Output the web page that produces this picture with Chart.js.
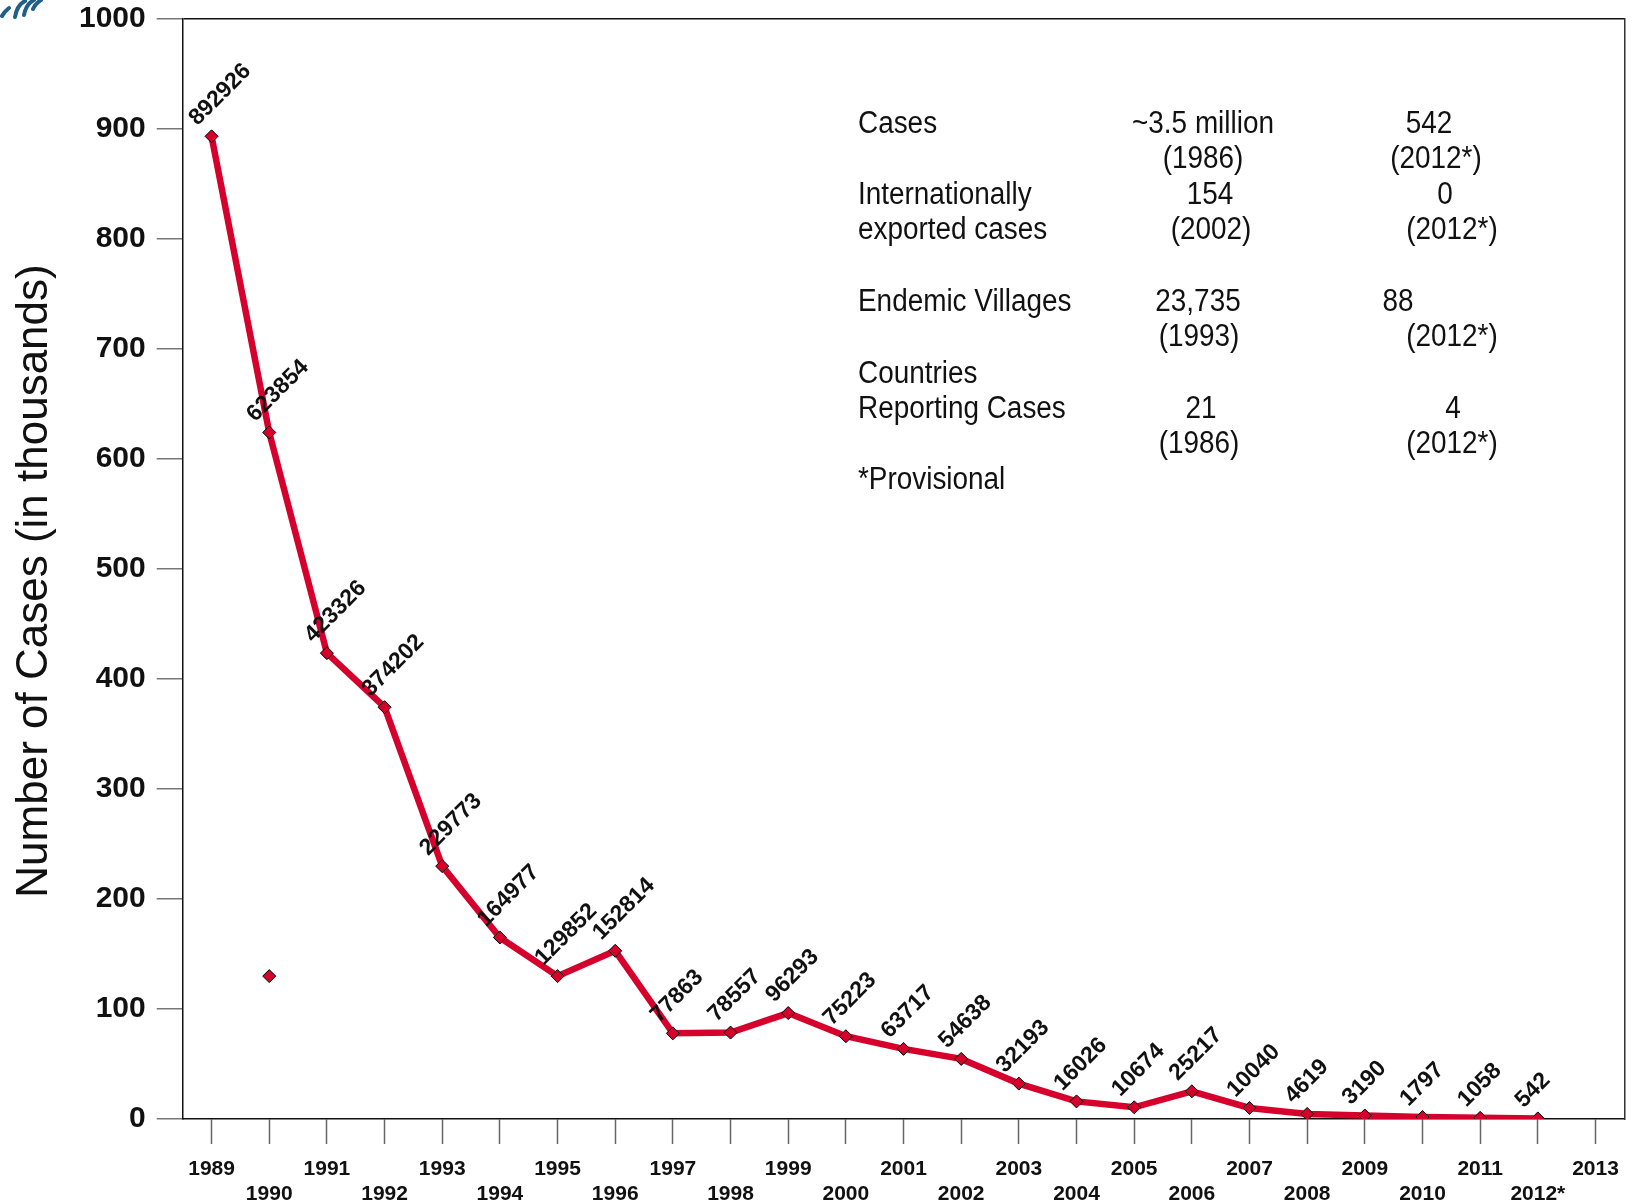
<!DOCTYPE html>
<html>
<head>
<meta charset="utf-8">
<script src="https://cdn.jsdelivr.net/npm/chart.js@4.4.1/dist/chart.umd.min.js"></script>
<style>
  html, body { margin: 0; padding: 0; background: #fff; }
  #wrap { width: 1632px; height: 1203px; }
</style>
</head>
<body>
<div id="wrap"><canvas id="casesChart"></canvas></div>
<script>
const years = ['1989', '1990', '1991', '1992', '1993', '1994', '1995', '1996', '1997', '1998', '1999', '2000',
    '2001', '2002', '2003', '2004', '2005', '2006', '2007', '2008', '2009', '2010', '2011', '2012*', '2013'];

// reported cases per year (2013 has no value yet)
const cases = [892926, 623854, 423326, 374202, 229773, 164977, 129852, 152814, 77863, 78557, 96293, 75223,
    63717, 54638, 32193, 16026, 10674, 25217, 10040, 4619, 3190, 1797, 1058, 542, null];

// lone marker that sits under the 1990 point in the original
const strayPoint = [null, 129852, null, null, null, null, null, null, null, null, null, null,
    null, null, null, null, null, null, null, null, null, null, null, null, null];

const yTicks = [0, 100, 200, 300, 400, 500, 600, 700, 800, 900, 1000];

const yTitle = 'Number of Cases (in thousands)';

// summary table text, one row per line
const tableRows = [
    ['Cases', '~3.5 million', '542'],
    ['', '(1986)', '(2012*)'],
    ['Internationally', '154', '0'],
    ['exported cases', '(2002)', '(2012*)'],
    ['Endemic Villages', '23,735', '88'],
    ['', '(1993)', '(2012*)'],
    ['Countries', '', ''],
    ['Reporting Cases', '21', '4'],
    ['', '(1986)', '(2012*)'],
    ['*Provisional', '', '']
];

const toThousands = v => (v === null ? null : v / 1000);
const FONT = "'Liberation Sans', Arial, sans-serif";
const RED = '#D6002D';

// table placement (left of column 1, centres of columns 2 and 3)
const tableLayout = {
    left: 858,
    rowY: [124, 159, 195, 230, 302, 337, 374, 409, 444, 480],
    col2: [1203, 1203, 1210, 1211, 1198, 1199, 0, 1201, 1199, 0],
    col3: [1429, 1436, 1445, 1452, 1398, 1452, 0, 1453, 1452, 0]
};

const pointLabels = {
    id: 'pointLabels',
    afterDatasetsDraw(chart) {
        const ctx = chart.ctx;
        const meta = chart.getDatasetMeta(0);
        ctx.save();
        ctx.font = 'bold 23px ' + FONT;
        ctx.fillStyle = '#111';
        ctx.textAlign = 'left';
        ctx.textBaseline = 'alphabetic';
        meta.data.forEach((pt, i) => {
            if (cases[i] === null) return;
            ctx.save();
            ctx.translate(pt.x - 14, pt.y - 10);
            ctx.rotate(-Math.PI / 4);
            ctx.fillText(String(cases[i]), 0, 0);
            ctx.restore();
        });
        ctx.restore();
    }
};

const annotations = {
    id: 'annotations',
    afterDraw(chart) {
        const ctx = chart.ctx;
        const put = (text, x, y, align) => {
            if (!text) return;
            ctx.save();
            ctx.translate(x, y);
            ctx.scale(0.9, 1);
            ctx.textAlign = align;
            ctx.fillText(text, 0, 0);
            ctx.restore();
        };
        ctx.save();
        ctx.font = '31px ' + FONT;
        ctx.fillStyle = '#111';
        ctx.textBaseline = 'middle';
        tableRows.forEach((row, i) => {
            const y = tableLayout.rowY[i];
            put(row[0], tableLayout.left, y, 'left');
            put(row[1], tableLayout.col2[i], y, 'center');
            put(row[2], tableLayout.col3[i], y, 'center');
        });
        ctx.restore();

        // y axis title, sits a little below the middle of the plot
        ctx.save();
        ctx.font = '44px ' + FONT;
        ctx.fillStyle = '#111';
        ctx.textAlign = 'center';
        ctx.textBaseline = 'middle';
        ctx.translate(35, 581);
        ctx.rotate(-Math.PI / 2);
        ctx.fillText(yTitle, 0, 0);
        ctx.restore();

        // bit of the cropped logo in the top-left corner
        ctx.save();
        ctx.strokeStyle = '#1F5F8C';
        ctx.lineWidth = 4;
        ctx.lineCap = 'round';
        [[2, 16, 9, 8], [15, 17, 25, 1], [24, 15, 34, 0], [33, 9, 41, 0]].forEach(s => {
            ctx.beginPath();
            ctx.moveTo(s[0], s[1]);
            ctx.quadraticCurveTo(s[0] + 2, s[3] + 4, s[2], s[3]);
            ctx.stroke();
        });
        ctx.restore();
    }
};

new Chart(document.getElementById('casesChart'), {
    type: 'line',
    data: {
        labels: years,
        datasets: [
            {
                label: 'Cases',
                data: cases.map(toThousands),
                borderColor: RED,
                borderWidth: 6.5,
                tension: 0,
                pointStyle: 'rectRot',
                pointRadius: 6.5,
                pointBackgroundColor: RED,
                pointBorderColor: '#000',
                pointBorderWidth: 1,
                spanGaps: false
            },
            {
                label: 'stray',
                data: strayPoint.map(toThousands),
                showLine: false,
                pointStyle: 'rectRot',
                pointRadius: 6.5,
                pointBackgroundColor: RED,
                pointBorderColor: '#000',
                pointBorderWidth: 1
            }
        ]
    },
    options: {
        responsive: true,
        maintainAspectRatio: false,
        animation: false,
        layout: {
            padding: { top: 1, right: 7, bottom: -17, left: 68 }
        },
        plugins: {
            legend: { display: false },
            tooltip: { enabled: false }
        },
        scales: {
            x: {
                type: 'category',
                offset: true,
                grid: {
                    drawOnChartArea: false,
                    offset: false,
                    tickLength: 25,
                    tickColor: '#666',
                    tickWidth: 1.5
                },
                border: { color: '#111', width: 1.5 },
                ticks: {
                    autoSkip: false,
                    maxRotation: 0,
                    padding: 13,
                    color: '#111',
                    font: { family: FONT, size: 21, weight: 'bold', lineHeight: 1.19 },
                    callback: function (value, index) {
                        const label = this.getLabelForValue(value);
                        return index % 2 === 0 ? [label, ''] : ['', label];
                    }
                }
            },
            y: {
                min: 0,
                max: 1000,
                afterBuildTicks: axis => {
                    axis.ticks = yTicks.map(v => ({ value: v }));
                },
                grid: {
                    color: c => (c.tick && c.tick.value === 1000 ? '#111' : 'rgba(0,0,0,0)'),
                    lineWidth: 1.5,
                    tickLength: 26,
                    tickColor: '#777',
                    tickWidth: 1.5
                },
                border: { color: '#111', width: 1.5 },
                ticks: {
                    padding: 11,
                    color: '#111',
                    font: { family: FONT, size: 30, weight: 'bold', lineHeight: 0.5 },
                    callback: v => String(v)
                }
            },
            yRight: {
                position: 'right',
                min: 0,
                max: 1000,
                grid: { display: false, drawTicks: false },
                ticks: { display: false },
                border: { display: true, color: '#333', width: 1.5 }
            }
        }
    },
    plugins: [pointLabels, annotations]
});
</script>
</body>
</html>
